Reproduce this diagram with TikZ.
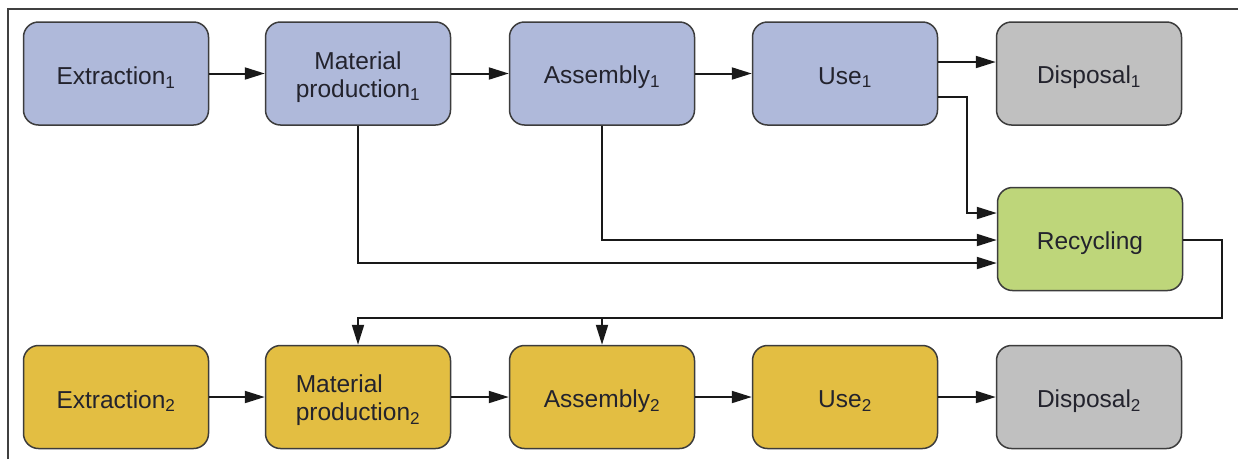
\documentclass[tikz,border=0pt]{standalone}
\usepackage{fontspec}
\setmainfont{Liberation Sans}
\usetikzlibrary{arrows.meta}
\definecolor{stageblue}{RGB}{175,185,218}
\definecolor{stageyellow}{RGB}{227,190,66}
\definecolor{stagegreen}{RGB}{190,214,122}
\definecolor{stagegray}{RGB}{192,192,192}
\definecolor{edgegray}{RGB}{60,60,60}
\definecolor{textdark}{RGB}{35,35,45}
% stage labels sit a little below the box centre
\newcommand{\stagetext}[1]{\raisebox{-4pt}[\height][\depth]{#1}}
\newcommand{\twoline}[3]{\raisebox{-4pt}[\height][\depth]{\begin{tabular}{@{}#1@{}}#2\\#3\end{tabular}}}
\begin{document}
\begin{tikzpicture}[x=1pt,y=-1pt,
  stage/.style={draw=edgegray, line width=1.5pt, rounded corners=15pt,
    minimum width=185pt, minimum height=103pt, inner sep=0pt,
    text=textdark, font=\fontsize{24.5}{28}\selectfont},
  firstrow/.style={stage, fill=stageblue},
  secondrow/.style={stage, fill=stageyellow},
  endstage/.style={stage, fill=stagegray},
  recstage/.style={stage, fill=stagegreen},
  conn/.style={draw=black!90, line width=2pt,
    -{Triangle[length=20pt,width=12pt]}}]
\useasboundingbox (0,0) rectangle (1238,459);
\fill[white] (0,0) rectangle (1238,459);
% frame
\draw[black!75, line width=1.6pt] (8,459) -- (8,9) -- (1238,9);

% first life cycle
\node[firstrow] (E1) at (116,73.5) {\stagetext{Extraction\textsubscript{1}}};
\node[firstrow] (M1) at (358,73.5) {\twoline{c}{Material}{production\textsubscript{1}}};
\node[firstrow] (A1) at (602,73.5) {\stagetext{Assembly\textsubscript{1}}};
\node[firstrow] (U1) at (845,73.5) {\stagetext{Use\textsubscript{1}}};
\node[endstage] (D1) at (1089,73.5) {\stagetext{Disposal\textsubscript{1}}};

% recycling
\node[recstage] (R) at (1090,239) {\stagetext{Recycling}};

% second life cycle
\node[secondrow] (E2) at (116,397) {\stagetext{Extraction\textsubscript{2}}};
\node[secondrow] (M2) at (358,397) {\twoline{l}{Material}{production\textsubscript{2}}};
\node[secondrow] (A2) at (602,397) {\stagetext{Assembly\textsubscript{2}}};
\node[secondrow] (U2) at (845,397) {\stagetext{Use\textsubscript{2}}};
\node[endstage] (D2) at (1089,397) {\stagetext{Disposal\textsubscript{2}}};

% main flows
\draw[conn] (E1) -- (M1);
\draw[conn] (M1) -- (A1);
\draw[conn] (A1) -- (U1);
\draw[conn] ([yshift=11.5pt]U1.east) -- ([yshift=11.5pt]D1.west);
\draw[conn] (E2) -- (M2);
\draw[conn] (M2) -- (A2);
\draw[conn] (A2) -- (U2);
\draw[conn] (U2) -- (D2);

% flows into recycling
\coordinate (k1) at (967,213);
\draw[conn] ([yshift=-23.5pt]U1.east) -| (k1) -- (R.west |- k1);
\draw[conn] (A1.south) |- ([yshift=-1pt]R.west);
\draw[conn] (M1.south) |- ([yshift=-24pt]R.west);

% recycled material back into the second cycle
\coordinate (k2) at (1222,318);
\draw[conn] ([yshift=-1pt]R.east) -| (k2) -| (M2.north);
\draw[conn] (A2.north |- k2) -- (A2.north);
\end{tikzpicture}
\end{document}
